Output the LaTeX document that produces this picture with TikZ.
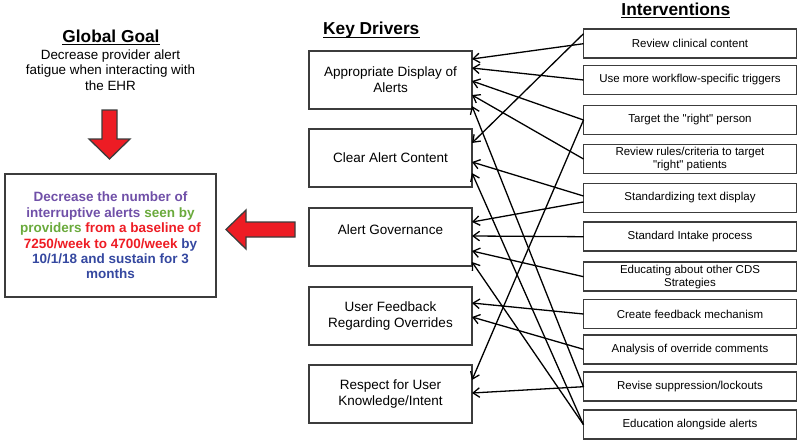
\documentclass[tikz,border=0pt]{standalone}
\usepackage{fontspec}
\setmainfont{Liberation Sans}[Ligatures=TeXOff]
\usetikzlibrary{arrows.meta,calc}
\definecolor{gpurple}{HTML}{7050A8}
\definecolor{ggreen}{HTML}{6AAA3C}
\definecolor{gred}{HTML}{EE1C24}
\definecolor{gblue}{HTML}{3548A0}
\definecolor{boxline}{HTML}{3C3C3C}
\definecolor{arrfill}{HTML}{ED1C24}
\begin{document}
\begin{tikzpicture}[x=1pt,y=-1pt,
  drvbox/.style={draw=boxline, line width=1.8pt, minimum width=163pt, minimum height=58pt, inner sep=0pt, outer sep=0pt, align=center, font=\fontsize{13.5}{15.7}\selectfont},
  intbox/.style={draw=boxline, line width=1.8pt, minimum width=213pt, minimum height=29pt, inner sep=0pt, outer sep=0pt, align=center, font=\fontsize{11.5}{13}\selectfont},
  conn/.style={line width=1.3pt, -{Straight Barb[length=6.5pt,width=9.5pt,line width=1.3pt]}},
  titletext/.style={font=\fontsize{17.3}{20}\selectfont\bfseries, anchor=base, inner sep=0pt},
  uline/.style={line width=1.3pt},
  bigarrow/.style={fill=arrfill, draw=boxline, line width=1.3pt, line join=miter}
]
\useasboundingbox (0,0) rectangle (800,444);

% titles
\node[titletext] (tg) at (111,42.7) {Global Goal};
\draw[uline] ($(tg.base west)+(0,1.8)$) -- ($(tg.base east)+(0,1.8)$);
\node[titletext] (tk) at (371.3,35) {Key Drivers};
\draw[uline] ($(tk.base west)+(0,2.2)$) -- ($(tk.base east)+(0,2.2)$);
\node[titletext] (ti) at (675.8,16) {Interventions};
\draw[uline] ($(ti.base west)+(0,1.8)$) -- ($(ti.base east)+(0,1.8)$);

% global goal description
\node[font=\fontsize{13.4}{15.5}\selectfont, align=center, inner sep=0pt] (gdesc) at (110.5,70) {Decrease provider alert\\fatigue when interacting with\\the EHR};

% goal box
\node[draw=boxline, line width=1.8pt, minimum width=211pt, minimum height=123pt, inner sep=0pt, align=center, font=\fontsize{13.5}{15.4}\selectfont\bfseries] (goal) at (110.5,235.5)
 {\textcolor{gpurple}{Decrease the number of}\\
  \textcolor{gpurple}{interruptive alerts} \textcolor{ggreen}{seen by}\\
  \textcolor{ggreen}{providers} \textcolor{gred}{from a baseline of}\\
  \textcolor{gred}{7250/week to 4700/week} \textcolor{gblue}{by}\\
  \textcolor{gblue}{10/1/18 and sustain for 3}\\
  \textcolor{gblue}{months}};

% big arrows
\draw[bigarrow] (102,110) -- (117,110) -- (117,139) -- (130,139) -- (109.5,159) -- (89,139) -- (102,139) -- cycle;
\draw[bigarrow] (295,222) -- (246,222) -- (246,210) -- (226,229.5) -- (246,249) -- (246,237) -- (295,237) -- cycle;

% key drivers
\node[drvbox] (D1) at (390.5,80) {Appropriate Display of\\Alerts};
\node[drvbox] (D2) at (390.5,158) {Clear Alert Content};
\node[drvbox] (D3) at (390.5,237) {\raisebox{14pt}{Alert Governance}};
\node[drvbox] (D4) at (390.5,316) {User Feedback\\Regarding Overrides};
\node[drvbox] (D5) at (390.5,394) {Respect for User\\Knowledge/Intent};

% interventions
\node[intbox] (I1) at (690,43.7) {Review clinical content};
\node[intbox] (I2) at (690,80) {Use more workflow-specific triggers};
\node[intbox] (I3) at (690,120) {Target the "right" person};
\node[intbox] (I4) at (690,159) {Review rules/criteria to target\\"right" patients};
\node[intbox] (I5) at (690,198) {Standardizing text display};
\node[intbox] (I6) at (690,236.7) {Standard Intake process};
\node[intbox] (I7) at (690,276.7) {Educating about other CDS\\Strategies};
\node[intbox] (I8) at (690,314) {Create feedback mechanism};
\node[intbox] (I9) at (690,349.3) {Analysis of override comments};
\node[intbox] (I10) at (690,386.7) {Revise suppression/lockouts};
\node[intbox] (I11) at (690,424.7) {Education alongside alerts};

% connectors
\draw[conn] (I1.west) -- ($(D1.east)+(0,-21)$);
\draw[conn] ($(I1.west)+(0,-10)$) -- ($(D2.east)+(0,-15)$);
\draw[conn] (I2.west) -- ($(D1.east)+(0,-12)$);
\draw[conn] (I3.west) -- ($(D1.east)+(0,1)$);
\draw[conn] (I3.west) -- ($(D5.east)+(0,-14)$);
\draw[conn] (I4.west) -- ($(D1.east)+(0,15)$);
\draw[conn] ($(I5.west)+(0,-2)$) -- ($(D2.east)+(0,4)$);
\draw[conn] ($(I5.west)+(0,4)$) -- ($(D3.east)+(0,-15)$);
\draw[conn] (I6.west) -- ($(D3.east)+(0,-1)$);
\draw[conn] (I7.west) -- ($(D3.east)+(0,14)$);
\draw[conn] (I8.west) -- ($(D4.east)+(0,-13)$);
\draw[conn] (I9.west) -- ($(D4.east)+(0,1)$);
\draw[conn] (I10.west) -- ($(D5.east)+(0,-1)$);
\draw[conn] (I10.west) -- ($(D1.east)+(0,26)$);
\draw[conn] (I11.west) -- ($(D3.east)+(0,25)$);
\draw[conn] (I11.west) -- ($(D2.east)+(0,15)$);
\end{tikzpicture}
\end{document}
